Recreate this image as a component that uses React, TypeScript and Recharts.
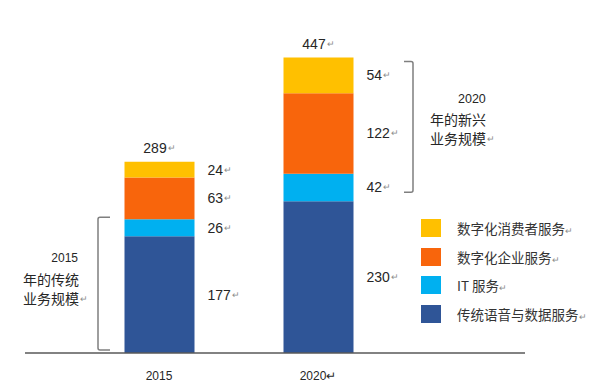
import React from 'react';
import { BarChart, Bar, XAxis, YAxis, LabelList, ReferenceLine, Legend } from 'recharts';

const years = ['2015', '2020'];
const traditional = [177, 230];
const itService = [26, 42];
const enterprise = [63, 122];
const consumer = [24, 54];
const totals = [289, 447];

const seriesNames = {
  traditional: '传统语音与数据服务',
  itService: 'IT 服务',
  enterprise: '数字化企业服务',
  consumer: '数字化消费者服务',
};

const colors = {
  traditional: '#2F5597',
  itService: '#00B0F0',
  enterprise: '#F8650C',
  consumer: '#FFC000',
};

const legendOrder = ['consumer', 'enterprise', 'itService', 'traditional'];

const data = years.map((year, i) => ({
  year,
  traditional: traditional[i],
  itService: itService[i],
  enterprise: enterprise[i],
  consumer: consumer[i],
  total: totals[i],
}));

const FONT = '"Liberation Sans", "Noto Sans CJK SC", sans-serif';
const CJK = '"Noto Sans CJK SC", "Liberation Sans", sans-serif';

const Mark = () => (
  <tspan fontSize={9} fill="#8c8c8c" dx={1}>↵</tspan>
);

const SegmentLabel = (props: any) => {
  const { x, y, width, height, value } = props;
  return (
    <text x={x + width + 13} y={y + height / 2} dominantBaseline="central" fontSize={14} fill="#262626" fontFamily={FONT}>
      {value}
      <Mark />
    </text>
  );
};

const TotalLabel = (props: any) => {
  const { x, y, width, value } = props;
  return (
    <text x={x + width / 2} y={y - 14} textAnchor="middle" dominantBaseline="central" fontSize={14} fill="#262626" fontFamily={FONT}>
      {value}
      <Mark />
    </text>
  );
};

const LeftBracket = (p: any) => {
  const x = p.x1 - 61;
  const top = Math.min(p.y1, p.y2) - 2;
  const bot = Math.max(p.y1, p.y2) - 3;
  const mid = (top + bot) / 2;
  return (
    <g>
      <path d={`M${x + 12},${top} L${x + 2},${top} Q${x},${top} ${x},${top + 2} L${x},${bot - 2} Q${x},${bot} ${x + 2},${bot} L${x + 12},${bot}`} fill="none" stroke="#7f7f7f" strokeWidth={1.5} />
      <text x={x - 20} y={mid - 26} textAnchor="end" dominantBaseline="central" fontSize={12} fill="#262626" fontFamily={FONT}>2015</text>
      <text x={x - 75} y={mid - 5} dominantBaseline="central" fontSize={14} fill="#262626" fontFamily={CJK}>年的传统</text>
      <text x={x - 75} y={mid + 14} dominantBaseline="central" fontSize={14} fill="#262626" fontFamily={CJK}>业务规模<Mark /></text>
    </g>
  );
};

const RightBracket = (p: any) => {
  const x = p.x1 + 95;
  const top = Math.min(p.y1, p.y2) + 4;
  const bot = Math.max(p.y1, p.y2) - 9;
  const mid = (top + bot) / 2;
  return (
    <g>
      <path d={`M${x - 9},${top} L${x - 2},${top} Q${x},${top} ${x},${top + 2} L${x},${bot - 2} Q${x},${bot} ${x - 2},${bot} L${x - 9},${bot}`} fill="none" stroke="#7f7f7f" strokeWidth={1.5} />
      <text x={x + 45} y={mid - 28} dominantBaseline="central" fontSize={12.5} fill="#262626" fontFamily={FONT}>2020</text>
      <text x={x + 17} y={mid - 8} dominantBaseline="central" fontSize={14} fill="#262626" fontFamily={CJK}>年的新兴</text>
      <text x={x + 17} y={mid + 11} dominantBaseline="central" fontSize={14} fill="#262626" fontFamily={CJK}>业务规模<Mark /></text>
    </g>
  );
};

const LegendContent = (props: any) => {
  const items = [...(props.payload || [])].sort(
    (a: any, b: any) => legendOrder.indexOf(a.dataKey) - legendOrder.indexOf(b.dataKey)
  );
  return (
    <div>
      {items.map((item: any, i: number) => (
        <div key={i} style={{ display: 'flex', alignItems: 'center', height: 28.5 }}>
          <span style={{ display: 'inline-block', width: 20, height: 18, background: item.color, marginRight: 16 }} />
          <span style={{ fontFamily: CJK, fontSize: 13.5, color: '#333', whiteSpace: 'nowrap' }}>
            {item.value}
            <span style={{ fontSize: 9, color: '#8c8c8c' }}>↵</span>
          </span>
        </div>
      ))}
    </div>
  );
};

export default function App() {
  return (
    <div style={{ position: 'fixed', left: 0, top: 0, background: '#fff' }}>
      <BarChart width={600} height={390} data={data} margin={{ top: 20, right: 75, left: 25, bottom: 0 }}>
        <XAxis
          dataKey="year"
          height={37}
          padding={{ left: 54.5, right: 127.5 }}
          axisLine={{ stroke: '#595959', strokeWidth: 1.5 }}
          tickLine={false}
          tickMargin={12}
          tick={{ fontSize: 12, fill: '#262626', fontFamily: FONT }}
          tickFormatter={(v: string) => (v === '2020' ? '2020↵' : v)}
        />
        <YAxis hide domain={[0, 505]} />
        <Legend
          layout="horizontal"
          align="center"
          verticalAlign="middle"
          content={LegendContent}
          wrapperStyle={{ position: 'absolute', left: 421, top: 214, width: 'auto' }}
        />
        <Bar dataKey="traditional" name={seriesNames.traditional} stackId="a" fill={colors.traditional} barSize={70} isAnimationActive={false}>
          <LabelList dataKey="traditional" content={SegmentLabel} />
        </Bar>
        <Bar dataKey="itService" name={seriesNames.itService} stackId="a" fill={colors.itService} barSize={70} isAnimationActive={false}>
          <LabelList dataKey="itService" content={SegmentLabel} />
        </Bar>
        <Bar dataKey="enterprise" name={seriesNames.enterprise} stackId="a" fill={colors.enterprise} barSize={70} isAnimationActive={false}>
          <LabelList dataKey="enterprise" content={SegmentLabel} />
        </Bar>
        <Bar dataKey="consumer" name={seriesNames.consumer} stackId="a" fill={colors.consumer} barSize={70} isAnimationActive={false}>
          <LabelList dataKey="consumer" content={SegmentLabel} />
          <LabelList dataKey="total" content={TotalLabel} />
        </Bar>
        <ReferenceLine
          segment={[{ x: '2015', y: 0 }, { x: '2015', y: traditional[0] + itService[0] }]}
          shape={LeftBracket}
        />
        <ReferenceLine
          segment={[
            { x: '2020', y: traditional[1] },
            { x: '2020', y: traditional[1] + itService[1] + enterprise[1] + consumer[1] },
          ]}
          shape={RightBracket}
        />
      </BarChart>
    </div>
  );
}
